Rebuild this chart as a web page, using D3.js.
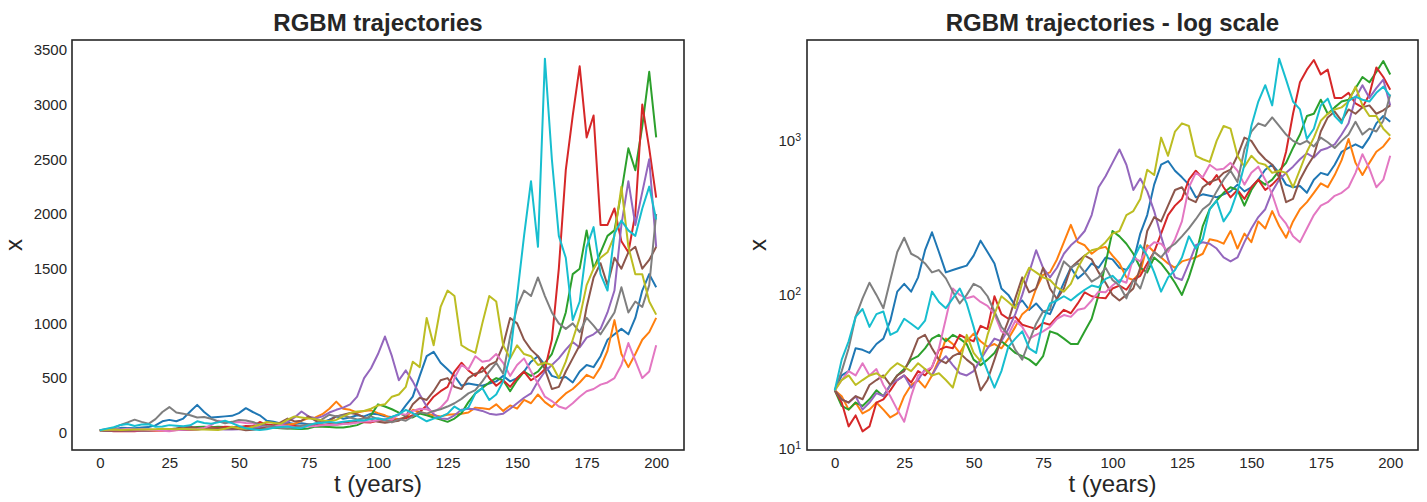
<!DOCTYPE html>
<html>
<head>
<meta charset="utf-8">
<script src="https://cdn.jsdelivr.net/npm/d3@7/dist/d3.min.js"></script>
<style>
body { margin: 0; background: #fff; }
text { font-family: "Liberation Sans", Arial, sans-serif; }
</style>
</head>
<body>
<svg id="chart" width="1427" height="502"></svg>
<script>
var years = d3.range(81).map(function (i) { return i * 2.5; });

var blue = [24, 30, 32, 45, 44, 42, 48, 52, 68, 105,
    118, 105, 130, 195, 255, 190, 140, 145, 150, 155,
    180, 225, 190, 160, 110, 100, 85, 92, 80, 88,
    78, 75, 95, 120, 150, 128, 140, 160, 150, 175,
    170, 150, 145, 165, 250, 330, 520, 700, 740, 640,
    580, 520, 430, 450, 440, 430, 450, 470, 520, 470,
    500, 560, 650, 700, 620, 520, 500, 510, 460, 560,
    620, 600, 700, 850, 900, 950, 900, 1050, 1300, 1450,
    1330];
var orange = [24, 22, 18, 20, 17, 18, 20, 18, 16, 17,
    22, 26, 28, 25, 30, 38, 52, 48, 42, 50,
    56, 50, 46, 48, 45, 52, 62, 75, 82, 110,
    135, 140, 170, 220, 285, 220, 210, 185, 200, 205,
    180, 160, 130, 125, 140, 210, 190, 175, 160, 150,
    165, 170, 175, 185, 230, 225, 215, 260, 200, 250,
    220, 300, 270, 350, 280, 235, 300, 360, 400, 460,
    530, 500, 600, 750, 1030, 720, 600, 720, 850, 920,
    1050];
var green = [24, 19, 18, 20, 19, 21, 24, 22, 26, 30,
    33, 38, 40, 45, 52, 55, 50, 55, 52, 48,
    38, 35, 38, 42, 50, 46, 42, 40, 38, 35,
    40, 58, 56, 52, 48, 48, 58, 70, 100, 160,
    260, 240, 215, 185, 150, 140, 175, 160, 140, 120,
    100, 130, 180, 280, 360, 410, 460, 500, 480, 380,
    480, 560, 520, 560, 640, 720, 900, 1100, 1450, 1500,
    1850, 1500, 1650, 1800, 1850, 2200, 2600, 2400, 2800, 3300,
    2700];
var red = [24, 20, 14, 16.5, 13, 14, 20, 21, 24, 28,
    30, 27, 32, 30, 34, 44, 46, 45, 55, 52,
    50, 63, 60, 98, 75, 70, 72, 64, 62, 60,
    66, 64, 72, 80, 76, 88, 104, 98, 96, 95,
    110, 115, 108, 125, 133, 160, 190, 250, 330, 380,
    420, 560, 640, 570, 520, 600, 500, 430, 480, 420,
    500, 560, 480, 520, 580, 850, 1500, 2400, 2900, 3350,
    2700, 2900, 1900, 1900, 2050, 1750, 1650, 2000, 3000, 2600,
    2150];
var purple = [24, 21, 20, 22, 18, 20, 23, 22, 26, 28,
    30, 25, 28, 33, 30, 36, 40, 35, 31, 30,
    32, 38, 45, 52, 50, 60, 75, 100, 140, 195,
    150, 130, 150, 185, 210, 230, 260, 330, 500, 590,
    720, 880, 700, 480, 570, 470, 350, 240, 170, 130,
    125, 160, 210, 220, 215, 200, 175, 165, 175, 220,
    270, 320, 360, 470, 560, 620, 680, 760, 830, 780,
    870, 900, 950, 1100, 1300, 1900, 2300, 1900, 2200, 2500,
    1700];
var brown = [24, 21, 20, 22, 21, 26, 28, 30, 26, 30,
    32, 40, 52, 55, 45, 38, 36, 40, 42, 38,
    35, 24, 28, 38, 52, 68, 95, 130, 104, 110,
    150, 110, 94, 110, 150, 165, 180, 170, 140, 120,
    100, 92, 100, 110, 150, 260, 320, 300, 380, 480,
    500, 420, 400, 500, 540, 560, 620, 650, 800, 1050,
    1000, 850, 760, 700, 580, 400, 420, 560, 680, 800,
    1150, 1420, 1550, 1350, 1600, 1500, 1650, 1700, 1500, 1580,
    1700];
var pink = [24, 28, 32, 30, 36, 30, 33, 26, 22, 18,
    15, 22, 30, 32, 34, 45, 70, 110, 100, 95,
    98, 90, 85, 75, 58, 55, 68, 62, 52, 55,
    58, 62, 70, 74, 72, 80, 82, 92, 105, 104,
    115, 125, 120, 175, 165, 200, 220, 215, 190, 230,
    300, 500, 620, 580, 700, 650, 660, 720, 640, 520,
    620, 680, 560, 450, 330, 290, 240, 220, 270, 330,
    380, 400, 440, 460, 500, 620, 820, 660, 500, 560,
    800];
var gray = [24, 32, 45, 72, 95, 120, 100, 82, 125, 190,
    235, 185, 175, 160, 140, 145, 128, 105, 88, 100,
    118, 112, 98, 78, 62, 55, 44, 38, 50, 65,
    78, 80, 125, 165, 150, 160, 140, 122, 130, 150,
    125, 115, 95, 125, 110, 150, 190, 175, 200, 215,
    240, 270, 310, 360, 390, 470, 560, 640, 540, 880,
    1150, 1300, 1250, 1420, 1250, 1100, 1000, 950, 1000, 920,
    1050, 980, 900, 1000, 1100, 1330, 1100, 1200, 1150, 1350,
    2000];
var olive = [24, 28, 30, 26, 28, 30, 31, 29, 33, 36,
    34, 32, 36, 33, 30, 31, 28, 25, 36, 55,
    42, 37, 55, 75, 98, 90, 82, 120, 150, 140,
    130, 125, 112, 105, 118, 150, 180, 195, 200, 220,
    250, 260, 330, 350, 420, 650, 600, 1050, 800, 1150,
    1300, 1250, 800, 760, 730, 1000, 1250, 1200, 800, 680,
    800, 720, 700, 620, 640, 620, 500, 650, 850, 1050,
    1350, 1500, 1600, 1650, 1800, 2250, 1700, 1450, 1450, 1200,
    1080];
var cyan = [24, 38, 50, 72, 81, 62, 75, 78, 55, 58,
    70, 65, 60, 68, 105, 90, 82, 95, 110, 88,
    62, 42, 32, 25, 32, 46, 52, 58, 45, 42,
    68, 88, 92, 98, 92, 100, 108, 115, 112, 127,
    133, 120, 145, 170, 210, 180, 140, 105, 130, 145,
    175, 240, 200, 230, 360, 410, 300, 350, 470, 700,
    1250, 1800, 2300, 1700, 3420, 2500, 1800, 1600, 1030, 1200,
    1700, 1880, 1450, 1300, 1820, 1940, 1850, 1800, 2050, 2250,
    1950];

var series = [blue, orange, green, red, purple, brown, pink, gray, olive, cyan];
var colors = d3.schemeCategory10;

var xTicks = [0, 25, 50, 75, 100, 125, 150, 175, 200];
var yTicks = [0, 500, 1000, 1500, 2000, 2500, 3000, 3500];
var logTicks = [10, 100, 1000];

var ink = '#262626';
var svg = d3.select('#chart');
svg.append('rect').attr('width', 1427).attr('height', 502).attr('fill', '#fff');

function pad(lo, hi) {
    var p = (hi - lo) * 0.05;
    return [lo - p, hi + p];
}

var allValues = d3.merge(series);
var vMin = d3.min(allValues), vMax = d3.max(allValues);

function drawPanel(opts) {
    var x = d3.scaleLinear()
        .domain(pad(d3.min(years), d3.max(years)))
        .range([opts.left, opts.right]);

    var y;
    if (opts.log) {
        var ld = pad(Math.log10(vMin), Math.log10(vMax));
        y = d3.scaleLog().domain([Math.pow(10, ld[0]), Math.pow(10, ld[1])])
            .range([opts.bottom, opts.top]);
    } else {
        y = d3.scaleLinear().domain(pad(vMin, vMax))
            .range([opts.bottom, opts.top]);
    }

    var g = svg.append('g');

    g.append('clipPath').attr('id', opts.id + '-clip')
        .append('rect')
        .attr('x', opts.left).attr('y', opts.top)
        .attr('width', opts.right - opts.left)
        .attr('height', opts.bottom - opts.top);

    var line = d3.line()
        .x(function (d, i) { return x(years[i]); })
        .y(function (d) { return y(d); });

    g.append('g')
        .attr('clip-path', 'url(#' + opts.id + '-clip)')
        .selectAll('path')
        .data(series)
        .enter()
        .append('path')
        .attr('d', line)
        .attr('fill', 'none')
        .attr('stroke', function (d, i) { return colors[i]; })
        .attr('stroke-width', 2)
        .attr('stroke-linejoin', 'round');

    // frame
    g.append('rect')
        .attr('x', opts.left).attr('y', opts.top)
        .attr('width', opts.right - opts.left)
        .attr('height', opts.bottom - opts.top)
        .attr('fill', 'none')
        .attr('stroke', ink)
        .attr('stroke-width', 1.6);

    var xa = g.append('g')
        .attr('transform', 'translate(0,' + opts.bottom + ')')
        .call(d3.axisBottom(x).tickValues(xTicks).tickSize(0).tickPadding(7));
    var ya = g.append('g')
        .attr('transform', 'translate(' + opts.left + ',0)')
        .call(d3.axisLeft(y)
            .tickValues(opts.log ? logTicks : yTicks)
            .tickFormat(d3.format('d'))
            .tickSize(0).tickPadding(opts.log ? 6 : 5));

    [xa, ya].forEach(function (a) {
        a.select('.domain').remove();
        a.attr('font-family', null).attr('font-size', 15).attr('color', ink);
    });

    if (opts.log) {
        ya.selectAll('.tick text').each(function (d) {
            var t = d3.select(this).text(null);
            t.append('tspan').text('10');
            t.append('tspan')
                .attr('dy', '-0.5em')
                .attr('font-size', 10.5)
                .text(Math.round(Math.log10(d)));
        });
    }

    var cx = (opts.left + opts.right) / 2;
    g.append('text')
        .attr('x', cx).attr('y', 31)
        .attr('text-anchor', 'middle')
        .attr('font-size', 24).attr('font-weight', 'bold')
        .attr('fill', ink)
        .text(opts.title);

    g.append('text')
        .attr('x', cx).attr('y', 492)
        .attr('text-anchor', 'middle')
        .attr('font-size', 24)
        .attr('fill', ink)
        .text('t (years)');

    g.append('text')
        .attr('transform', 'translate(' + opts.ylabelX + ',' + (opts.top + opts.bottom) / 2 + ') rotate(-90)')
        .attr('text-anchor', 'middle')
        .attr('font-size', 24)
        .attr('fill', ink)
        .text('x');
}

drawPanel({ id: 'lin', left: 72, right: 684, top: 40, bottom: 450,
    title: 'RGBM trajectories', log: false, ylabelX: 22 });
drawPanel({ id: 'log', left: 807, right: 1418, top: 40, bottom: 450,
    title: 'RGBM trajectories - log scale', log: true, ylabelX: 766 });
</script>
</body>
</html>
